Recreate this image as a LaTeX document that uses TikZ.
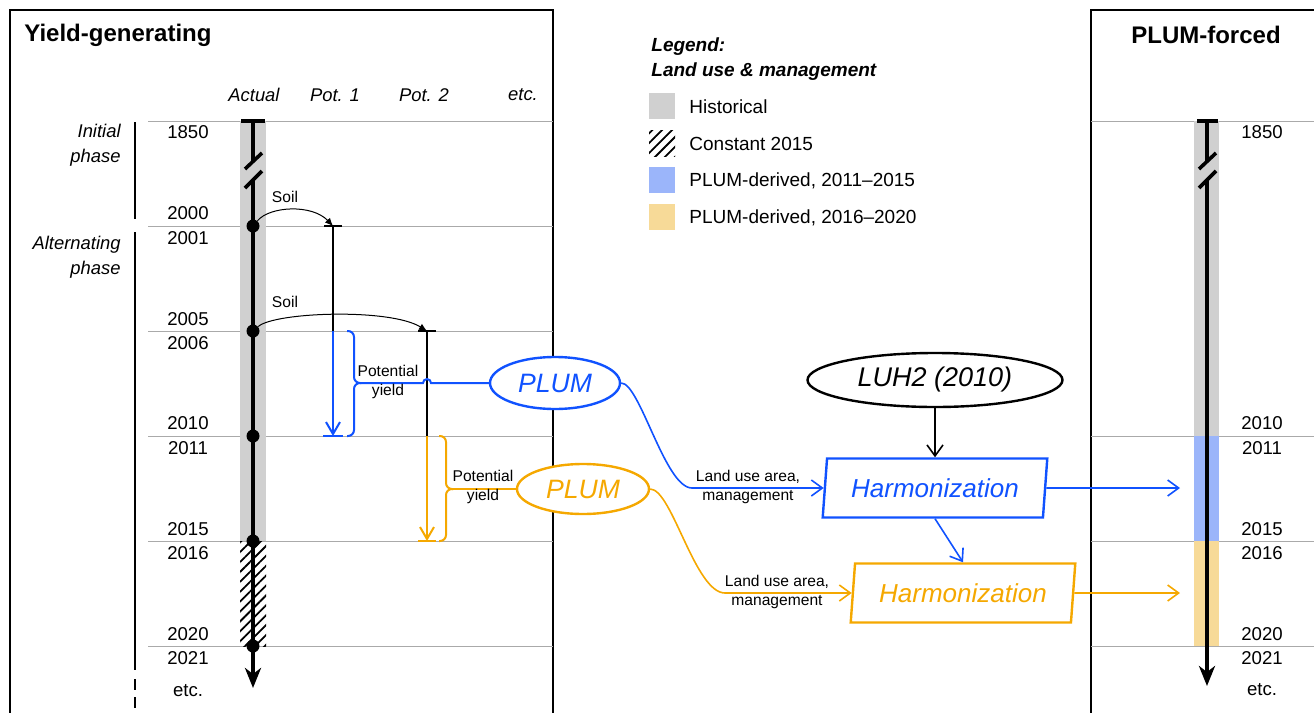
\documentclass[tikz,border=0pt]{standalone}
\usepackage{fontspec}
\setmainfont{Liberation Sans}
\usetikzlibrary{shapes.geometric,arrows.meta,patterns.meta}
\definecolor{histgray}{RGB}{208,208,208}
\definecolor{linegray}{RGB}{170,170,170}
\definecolor{plumblue}{RGB}{16,82,255}
\definecolor{plumorange}{RGB}{245,168,0}
\definecolor{lightblue}{RGB}{155,181,250}
\definecolor{lightorange}{RGB}{247,218,152}

\begin{document}
\begin{tikzpicture}[x=0.5pt,y=-0.5pt,
    yr/.style={font=\fontsize{9.3}{11}\selectfont,inner sep=0pt},
    hdr/.style={font=\fontsize{9.2}{11}\selectfont\itshape,inner sep=0pt},
    phase/.style={font=\fontsize{9.2}{12.5}\selectfont\itshape,align=right,anchor=east,inner sep=0pt},
    lbl/.style={font=\fontsize{7.8}{9.6}\selectfont,align=center,inner sep=0pt},
    ttl/.style={font=\fontsize{12}{14}\selectfont\bfseries,inner sep=0pt},
    legttl/.style={font=\fontsize{9.5}{11}\selectfont\bfseries\itshape,anchor=west,inner sep=0pt},
    legtxt/.style={font=\fontsize{9.5}{11}\selectfont,anchor=west,inner sep=0pt},
    legbox/.style={minimum size=13pt,inner sep=0pt},
    hatch/.style={pattern={Lines[angle=45,distance=3.5pt,line width=0.9pt]}},
    dot/.style={circle,fill=black,inner sep=0pt,minimum size=6.5pt},
    yearline/.style={draw=linegray,line width=0.5pt},
    tline/.style={line width=1.8pt},
    plum/.style={ellipse,draw,line width=1.2pt,fill=white,inner sep=0pt,
        minimum width=65pt,minimum height=26pt,font=\fontsize{13.3}{16}\selectfont\itshape},
    harm/.style={trapezium,trapezium left angle=80,trapezium right angle=100,
        trapezium stretches=true,draw,line width=1.2pt,fill=white,inner sep=0pt,
        minimum width=113pt,minimum height=29.5pt,font=\fontsize{13}{16}\selectfont\itshape},
    flow/.style={line width=0.8pt,-{Straight Barb[length=5.5pt,width=8pt]}},
    soil/.style={line width=0.5pt,-{Latex[length=4pt,width=3.5pt]}}]

\useasboundingbox (0,0) rectangle (1314,713);

% frames and titles
\draw[line width=1pt] (10,713) -- (10,10) -- (553,10) -- (553,713);
\draw[line width=1pt] (1091,713) -- (1091,10) -- (1314,10);
\node[ttl,anchor=west] (tYield) at (24,35) {Yield-generating};
\node[ttl] (tForced) at (1206,35) {PLUM-forced};

\node[hdr] (hAct) at (254,95) {Actual};
\node[hdr] (hPot1) at (335,95) {Pot. 1};
\node[hdr] (hPot2) at (424,95) {Pot. 2};
\node[hdr] (hEtc) at (523,95) {etc.};

% year separators
\draw[yearline] (148,121) -- (553,121);
\draw[yearline] (148,226) -- (553,226);
\draw[yearline] (148,331) -- (553,331);
\draw[yearline] (148,436) -- (553,436);
\draw[yearline] (148,541) -- (553,541);
\draw[yearline] (148,646) -- (553,646);
\draw[yearline] (1091,121) -- (1314,121);
\draw[yearline] (1091,436) -- (1314,436);
\draw[yearline] (1091,541) -- (1314,541);
\draw[yearline] (1091,646) -- (1314,646);

% phases
\node[phase] (phInit) at (121,145) {Initial\\phase};
\node[phase] (phAlt) at (121,257) {Alternating\\phase};
\draw[line width=0.8pt] (135,122) -- (135,219);
\draw[line width=0.8pt] (135,232) -- (135,670);
\draw[line width=0.8pt,dash pattern=on 5.5pt off 3.5pt] (135,679) -- (135,713);

% years, left
\node[yr] (y1850) at (188,132) {1850};
\node[yr] (y2000) at (188,213) {2000};
\node[yr] (y2001) at (188,238) {2001};
\node[yr] (y2005) at (188,319) {2005};
\node[yr] (y2006) at (188,343) {2006};
\node[yr] (y2010) at (188,423) {2010};
\node[yr] (y2011) at (188,448) {2011};
\node[yr] (y2015) at (188,529) {2015};
\node[yr] (y2016) at (188,553) {2016};
\node[yr] (y2020) at (188,634) {2020};
\node[yr] (y2021) at (188,658) {2021};
\node[yr] (yEtc) at (188,691) {etc.};

% years, right
\node[yr] (r1850) at (1262,132) {1850};
\node[yr] (r2010) at (1262,423) {2010};
\node[yr] (r2011) at (1262,448) {2011};
\node[yr] (r2015) at (1262,529) {2015};
\node[yr] (r2016) at (1262,553) {2016};
\node[yr] (r2020) at (1262,634) {2020};
\node[yr] (r2021) at (1262,658) {2021};
\node[yr] (rEtc) at (1262,690) {etc.};

% bars
\fill[histgray] (240,121) rectangle (266,541);
\fill[hatch] (240,541) rectangle (266,646);
\fill[histgray] (1194,121) rectangle (1219,436);
\fill[lightblue] (1194,436) rectangle (1219,541);
\fill[lightorange] (1194,541) rectangle (1219,646);

% actual timeline
\draw[tline] (241,121) -- (265,121);
\draw[tline] (253,121) -- (253,161);
\draw[tline] (245,169) -- (262,153);
\draw[tline] (245,188) -- (262,171);
\draw[tline,-{Stealth[length=10pt,width=8pt,inset=3pt]}] (253,180) -- (253,688);
\node[dot] (d2000) at (253,226) {};
\node[dot] (d2005) at (253,331) {};
\node[dot] (d2010) at (253,436) {};
\node[dot] (d2015) at (253,541) {};
\node[dot] (d2020) at (253,646) {};

% forced timeline
\draw[tline] (1197,121) -- (1218,121);
\draw[tline] (1207,121) -- (1207,161);
\draw[tline] (1199,169) -- (1216,153);
\draw[tline] (1199,188) -- (1216,171);
\draw[tline,-{Stealth[length=10pt,width=8pt,inset=3pt]}] (1207,180) -- (1207,686);

% potential runs
\coordinate (p1top) at (333,226);
\coordinate (p1mid) at (333,331);
\coordinate (p1end) at (333,436);
\coordinate (p2top) at (427,331);
\coordinate (p2mid) at (427,436);
\coordinate (p2end) at (427,541);
\draw[line width=0.8pt] (324,226) -- (342,226);
\draw[line width=0.8pt] (p1top) -- (p1mid);
\draw[plumblue,line width=1pt,-{Straight Barb[length=6pt,width=7pt]}] (p1mid) -- (p1end);
\draw[plumblue,line width=1pt] (323,436) -- (343,436);
\draw[line width=0.8pt] (418,331) -- (436,331);
\draw[line width=0.8pt] (p2top) -- (p2mid);
\draw[plumorange,line width=1pt,-{Straight Barb[length=6pt,width=7pt]}] (p2mid) -- (p2end);
\draw[plumorange,line width=1pt] (418,541) -- (436,541);

\draw[soil] (d2000) .. controls (270,206) and (312,204) .. (p1top);
\draw[soil] (d2005) .. controls (275,312) and (390,308) .. (p2top);
\node[lbl] (soil1) at (285,197) {Soil};
\node[lbl] (soil2) at (285,302) {Soil};

% braces to PLUM
\node[plum,draw=plumblue,text=plumblue] (plumB) at (555,383) {PLUM};
\node[plum,draw=plumorange,text=plumorange,minimum width=66pt,minimum height=25pt] (plumO) at (583,489) {PLUM};
\coordinate (bTip) at (361,383);
\coordinate (oTip) at (453,489);
\draw[plumblue,line width=1pt,rounded corners=3pt] (347,331) -- (354,331) -- (354,383) -- (bTip);
\draw[plumblue,line width=1pt,rounded corners=3pt] (347,436) -- (354,436) -- (354,383) -- (bTip);
\draw[plumblue,line width=1pt] (bTip) -- (423,383) arc (180:0:2pt) -- (plumB.west);
\draw[plumorange,line width=1pt,rounded corners=3pt] (439,436) -- (446,436) -- (446,489) -- (oTip);
\draw[plumorange,line width=1pt,rounded corners=3pt] (439,541) -- (446,541) -- (446,489) -- (oTip);
\draw[plumorange,line width=1pt] (oTip) -- (plumO.west);
\node[lbl] (potB) at (388,382) {Potential\\yield};
\node[lbl] (potO) at (483,487) {Potential\\yield};

% harmonization
\node[plum,minimum width=127.5pt,minimum height=27pt,font=\fontsize{13.5}{16}\selectfont\itshape] (luh) at (935,380) {LUH2 (2010)};
\node[harm,draw=plumblue,text=plumblue] (harmB) at (935,488) {Harmonization};
\node[harm,draw=plumorange,text=plumorange] (harmO) at (963,593) {Harmonization};
\coordinate (inB) at (1180,488);
\coordinate (inO) at (1180,593);

\draw[flow,plumblue] (plumB.east) .. controls (640,383) and (665,488) .. (692,488) -- (harmB.west);
\draw[flow,plumorange] (plumO.east) .. controls (672,489) and (695,593) .. (725,593) -- (harmO.west);
\node[lbl] (luaB) at (748,487) {Land use area,\\management};
\node[lbl] (luaO) at (777,592) {Land use area,\\management};
\draw[flow] (luh.south) -- (harmB.north);
\draw[flow,plumblue] (harmB.south) -- (harmO.north);
\draw[flow,plumblue] (harmB.east) -- (inB);
\draw[flow,plumorange] (harmO.east) -- (inO);

% legend
\node[legttl] (lgT1) at (651,47) {Legend:};
\node[legttl] (lgT2) at (651,72) {Land use \& management};
\node[legbox,fill=histgray] (lgHist) at (662,106) {};
\node[legbox,hatch] (lgConst) at (662,143) {};
\node[legbox,fill=lightblue] (lgBlue) at (662,180) {};
\node[legbox,fill=lightorange] (lgOrange) at (662,217) {};
\node[legtxt] (ltHist) at (689,107) {Historical};
\node[legtxt] (ltConst) at (689,144) {Constant 2015};
\node[legtxt] (ltBlue) at (689,181) {PLUM-derived, 2011--2015};
\node[legtxt] (ltOrange) at (689,218) {PLUM-derived, 2016--2020};

\end{tikzpicture}
\end{document}
